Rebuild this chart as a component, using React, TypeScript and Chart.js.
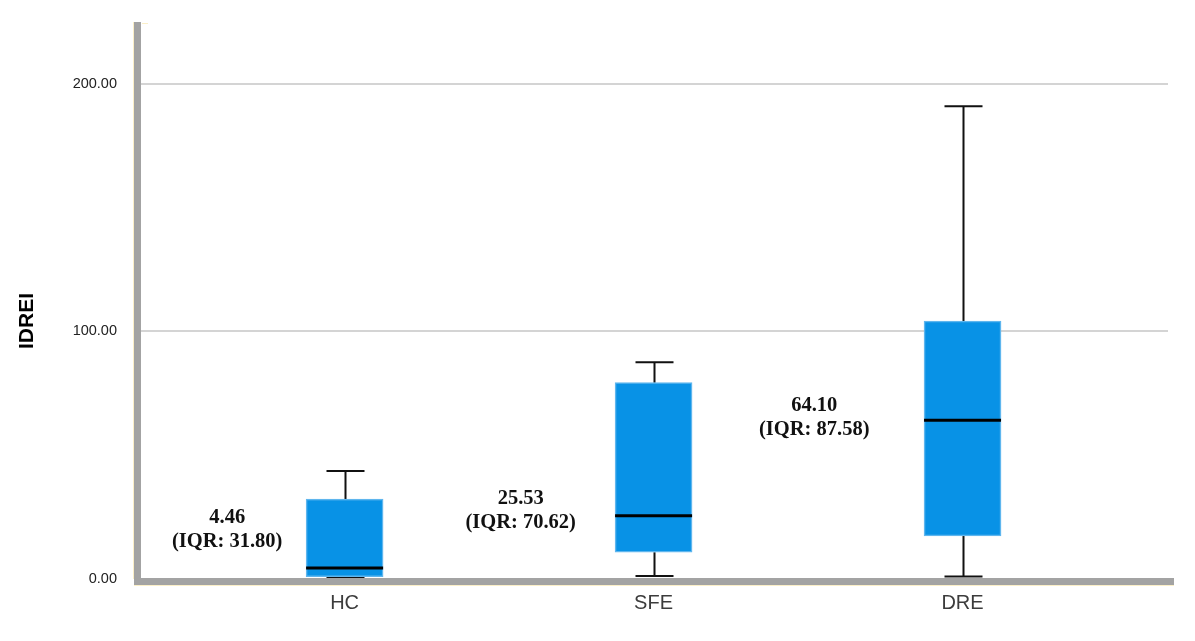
import React, { useEffect, useRef } from "react";
import { Chart, registerables } from "chart.js";

Chart.register(...registerables);

// ---- data ----
const categories = ["HC", "SFE", "DRE"];
const whiskerLow = [0.5, 1.2, 1.0];
const q1Values = [0.9, 10.8, 17.4];
const medianValues = [4.46, 25.53, 64.1];
const q3Values = [32.3, 79.3, 104.2];
const whiskerHigh = [43.6, 87.6, 191.0];
const medianLabels = ["4.46", "25.53", "64.10"];
const iqrLabels = ["(IQR: 31.80)", "(IQR: 70.62)", "(IQR: 87.58)"];
const yTickValues = [0, 100, 200];
const yTitle = "IDREI";

// annotation anchors (data units): x offset from category, y value of block centre
const annotationOffsetX = [-0.38, -0.43, -0.48];
const annotationCenterY = [19.8, 27.5, 65.0];

const BOX_FILL = "#0892e6";
const BOX_BORDER = "#5fb6ee";
const AXIS_GREY = "#a3a3a3";

const extrasPlugin = {
  id: "boxExtras",
  beforeDatasetsDraw(chart: any) {
    const { ctx, scales } = chart;
    const xs = scales.x;
    const ys = scales.y;
    ctx.save();
    ctx.strokeStyle = "#111";
    ctx.lineWidth = 2;
    categories.forEach((_, i) => {
      const x = Math.round(xs.getPixelForValue(i)) + 0.5;
      const capHalf = 19;
      const yHi = ys.getPixelForValue(whiskerHigh[i]);
      const yQ3 = ys.getPixelForValue(q3Values[i]);
      const yLo = ys.getPixelForValue(whiskerLow[i]);
      const yQ1 = ys.getPixelForValue(q1Values[i]);
      ctx.beginPath();
      ctx.moveTo(x, yHi);
      ctx.lineTo(x, yQ3);
      ctx.moveTo(x, yQ1);
      ctx.lineTo(x, yLo);
      ctx.moveTo(x - capHalf, yHi);
      ctx.lineTo(x + capHalf, yHi);
      ctx.moveTo(x - capHalf, yLo);
      ctx.lineTo(x + capHalf, yLo);
      ctx.stroke();
    });
    ctx.restore();
  },
  afterDatasetsDraw(chart: any) {
    const { ctx, scales, chartArea } = chart;
    const xs = scales.x;
    const ys = scales.y;
    ctx.save();
    // medians
    ctx.strokeStyle = "#000";
    ctx.lineWidth = 3;
    categories.forEach((_, i) => {
      const x = xs.getPixelForValue(i);
      const y = ys.getPixelForValue(medianValues[i]);
      ctx.beginPath();
      ctx.moveTo(x - 38.5, y);
      ctx.lineTo(x + 38.5, y);
      ctx.stroke();
    });
    // axes
    const left = chartArea.left;
    const bottom = chartArea.bottom;
    ctx.fillStyle = "#fbefc8";
    ctx.fillRect(left - 8, chartArea.top, 1, bottom - chartArea.top);
    ctx.fillRect(left - 7, bottom + 6, chartArea.right + 6 - (left - 7), 1);
    ctx.fillRect(left + 1, chartArea.top + 1, 6, 1);
    ctx.fillStyle = AXIS_GREY;
    ctx.fillRect(left - 7, chartArea.top, 7, bottom + 6 - chartArea.top);
    ctx.fillRect(left - 7, bottom - 1, chartArea.right + 6 - (left - 7), 7);
    // annotations
    ctx.fillStyle = "#111";
    ctx.font = "bold 20.5px 'Liberation Serif', 'Times New Roman', serif";
    ctx.textAlign = "center";
    ctx.textBaseline = "middle";
    categories.forEach((_, i) => {
      const x = xs.getPixelForValue(i + annotationOffsetX[i]);
      const y = ys.getPixelForValue(annotationCenterY[i]);
      ctx.fillText(medianLabels[i], x, y - 12);
      ctx.fillText(iqrLabels[i], x, y + 12);
    });
    // y title
    ctx.translate(27, 321);
    ctx.rotate(-Math.PI / 2);
    ctx.font = "bold 21px 'Liberation Sans', Arial, sans-serif";
    ctx.fillStyle = "#000";
    ctx.fillText(yTitle, 0, 0);
    ctx.restore();
  },
};

export default function App() {
  const canvasRef = useRef<HTMLCanvasElement | null>(null);

  useEffect(() => {
    document.body.style.margin = "0";
    const canvas = canvasRef.current;
    if (!canvas) return;
    const chart = new Chart(canvas, {
      type: "bar",
      data: {
        datasets: [
          {
            data: categories.map((_, i) => ({ x: i, y: [q1Values[i], q3Values[i]] })) as any,
            backgroundColor: BOX_FILL,
            borderColor: BOX_BORDER,
            borderWidth: 1.5,
            borderSkipped: false,
            barThickness: 77,
          },
        ],
      },
      options: {
        responsive: false,
        animation: false,
        devicePixelRatio: 1,
        layout: { padding: { top: 22, right: 27, left: 0, bottom: 0 } },
        plugins: {
          legend: { display: false },
          tooltip: { enabled: false },
        },
        scales: {
          x: {
            type: "linear",
            offset: false,
            min: -0.659,
            max: 2.665,
            grid: { display: false },
            border: { display: false },
            afterBuildTicks: (scale: any) => {
              scale.ticks = categories.map((_, i) => ({ value: i }));
            },
            afterFit: (scale: any) => {
              scale.height = 62;
              scale.paddingLeft = 0;
              scale.paddingRight = 0;
            },
            ticks: {
              padding: 4,
              autoSkip: false,
              maxRotation: 0,
              color: "#3c3c3c",
              font: { family: "'Liberation Sans', Arial, sans-serif", size: 20 },
              callback: (v: any) => categories[Number(v)] ?? "",
            },
          },
          y: {
            min: 0,
            max: 225,
            grid: {
              color: "#d4d4d4",
              lineWidth: 2,
              drawTicks: false,
            },
            border: { display: false },
            afterBuildTicks: (scale: any) => {
              scale.ticks = yTickValues.map((v) => ({ value: v }));
            },
            afterFit: (scale: any) => {
              scale.width = 141;
              scale.paddingTop = 0;
              scale.paddingBottom = 0;
            },
            ticks: {
              padding: 24,
              color: "#222",
              font: { family: "'Liberation Sans', Arial, sans-serif", size: 14.5 },
              callback: (v: any) => Number(v).toFixed(2),
            },
          },
        },
      },
      plugins: [extrasPlugin],
    });
    return () => chart.destroy();
  }, []);

  return (
    <div style={{ width: 1195, height: 641, background: "#fff" }}>
      <canvas ref={canvasRef} width={1195} height={641} style={{ display: "block" }} />
    </div>
  );
}
